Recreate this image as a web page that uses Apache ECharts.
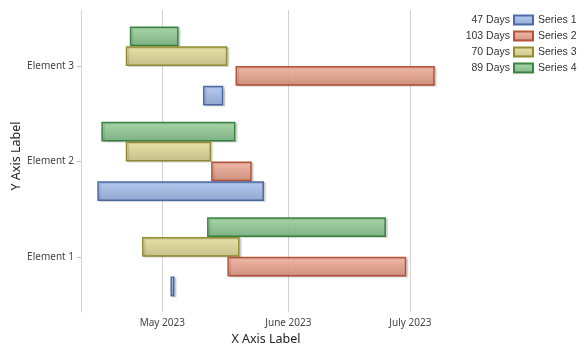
<!DOCTYPE html>
<html><head><meta charset="utf-8">
<script src="https://cdn.jsdelivr.net/npm/echarts@6/dist/echarts.min.js"></script>
<style>html,body{margin:0;padding:0;background:#fff}#c{width:585px;height:353px}</style>
</head><body><div id="c"></div>
<script>
// ---- data ----
const categories = ['Element 1', 'Element 2', 'Element 3'];
const seriesNames = ['Series 1', 'Series 2', 'Series 3', 'Series 4'];
// start dates (Element 1, Element 2, Element 3) and durations in days
const s1Start = ['2023-05-03', '2023-04-15', '2023-05-11'];
const s1Days  = [1, 41, 5];
const s2Start = ['2023-05-17', '2023-05-13', '2023-05-19'];
const s2Days  = [44, 10, 49];
const s3Start = ['2023-04-26', '2023-04-22', '2023-04-22'];
const s3Days  = [24, 21, 25];
const s4Start = ['2023-05-12', '2023-04-16', '2023-04-23'];
const s4Days  = [44, 33, 12];
const axisMin = '2023-04-11';
const axisMax = '2023-07-11';
const monthNames = ['January','February','March','April','May','June','July','August','September','October','November','December'];

// ---- styles ----
const fills = [
  ['#b3c9f2', '#8aa1cd', '#3c5d9e'],
  ['#f6b7a3', '#c98672', '#b0442b'],
  ['#eae4a2', '#c3bb82', '#8a8220'],
  ['#a2d6a2', '#74aa7b', '#2a7a32']
];

const DAY = 86400000;
function ts(s) { const p = s.split('-').map(Number); return new Date(p[0], p[1] - 1, p[2]).getTime(); }
const starts = [s1Start, s2Start, s3Start, s4Start];
const days = [s1Days, s2Days, s3Days, s4Days];
const totals = {};
seriesNames.forEach((n, i) => { totals[n] = days[i].reduce((a, b) => a + b, 0); });

const series = [];
// added in reverse so that Series 1 sits lowest in each band
for (let i = seriesNames.length - 1; i >= 0; i--) {
  const name = seriesNames[i];
  series.push({
    type: 'bar', xAxisIndex: 1, yAxisIndex: 1, stack: 'st' + i, silent: true,
    barGap: 0, barCategoryGap: '17%',
    itemStyle: { color: 'transparent' }, emphasis: { disabled: true }, tooltip: { show: false },
    data: starts[i].map(ts)
  });
  series.push({
    name: name, type: 'bar', xAxisIndex: 1, yAxisIndex: 1, stack: 'st' + i,
    barGap: 0, barCategoryGap: '17%',
    itemStyle: {
      color: { type: 'linear', x: 0, y: 0, x2: 0, y2: 1, colorStops: [
        { offset: 0, color: fills[i][0] }, { offset: 1, color: fills[i][1] }] },
      borderColor: fills[i][2], borderWidth: 1.5, opacity: 0.9,
      shadowColor: 'rgba(0,0,0,0.15)', shadowOffsetX: 2, shadowOffsetY: 1, shadowBlur: 1
    },
    data: days[i].map(d => d * DAY)
  });
}

const labelFont = 'Noto Sans';
const chart = echarts.init(document.getElementById('c'), null, { renderer: 'canvas' });
chart.setOption({
  animation: false,
  backgroundColor: '#fff',
  grid: [
    { left: 81, right: 134, top: 10, bottom: 41, outerBoundsMode: 'none' },
    { left: 81, right: 134, top: 18.3, bottom: 48.5, outerBoundsMode: 'none' }
  ],
  legend: [
    {
      data: seriesNames, orient: 'vertical', left: 513, top: 13, padding: 0,
      itemWidth: 19, itemHeight: 9, itemGap: 2, icon: 'rect', selectedMode: false,
      textStyle: { fontFamily: 'Liberation Sans', fontSize: 10.5, color: '#333', lineHeight: 14 }
    },
    {
      data: seriesNames, orient: 'vertical', right: 70, top: 13, padding: 0, align: 'right',
      itemWidth: 0, itemHeight: 9, itemGap: 2, icon: 'none', selectedMode: false,
      formatter: n => totals[n] + ' Days',
      textStyle: { fontFamily: 'Liberation Sans', fontSize: 10.5, color: '#333', lineHeight: 14 }
    }
  ],
  xAxis: [
    {
      type: 'time', gridIndex: 0, min: ts(axisMin), max: ts(axisMax),
      splitNumber: 3, minInterval: 28 * DAY,
      axisLine: { show: false }, axisTick: { show: false },
      splitLine: { show: true, showMinLine: false, showMaxLine: false, lineStyle: { color: '#d3d3d3', width: 1 } },
      axisLabel: {
        showMinLabel: false, showMaxLabel: false, margin: 6,
        fontFamily: labelFont, fontSize: 10, color: '#444',
        formatter: v => { const d = new Date(v); return monthNames[d.getMonth()] + ' ' + d.getFullYear(); }
      },
      name: 'X Axis Label', nameLocation: 'middle', nameGap: 20,
      nameTextStyle: { fontFamily: labelFont, fontSize: 12.5, color: '#222' }
    },
    { type: 'value', gridIndex: 1, min: ts(axisMin), max: ts(axisMax), show: false }
  ],
  yAxis: [
    {
      type: 'value', gridIndex: 0, min: 0, max: 1,
      axisLine: { show: true, lineStyle: { color: '#d3d3d3', width: 1 } },
      axisTick: { show: false }, axisLabel: { show: false }, splitLine: { show: false },
      name: 'Y Axis Label', nameLocation: 'middle', nameGap: 58, nameRotate: 90,
      nameTextStyle: { fontFamily: labelFont, fontSize: 12.5, color: '#222', padding: [0, 0, 0, 10] }
    },
    {
      type: 'category', gridIndex: 1, data: categories,
      axisLine: { show: false },
      axisTick: { show: true, length: 4, alignWithLabel: true, lineStyle: { color: '#c0c0c0' } },
      axisLabel: { margin: 7, fontFamily: labelFont, fontSize: 10, color: '#444' },
      splitLine: { show: false }
    }
  ],
  series: series
});
</script>
</body></html>
